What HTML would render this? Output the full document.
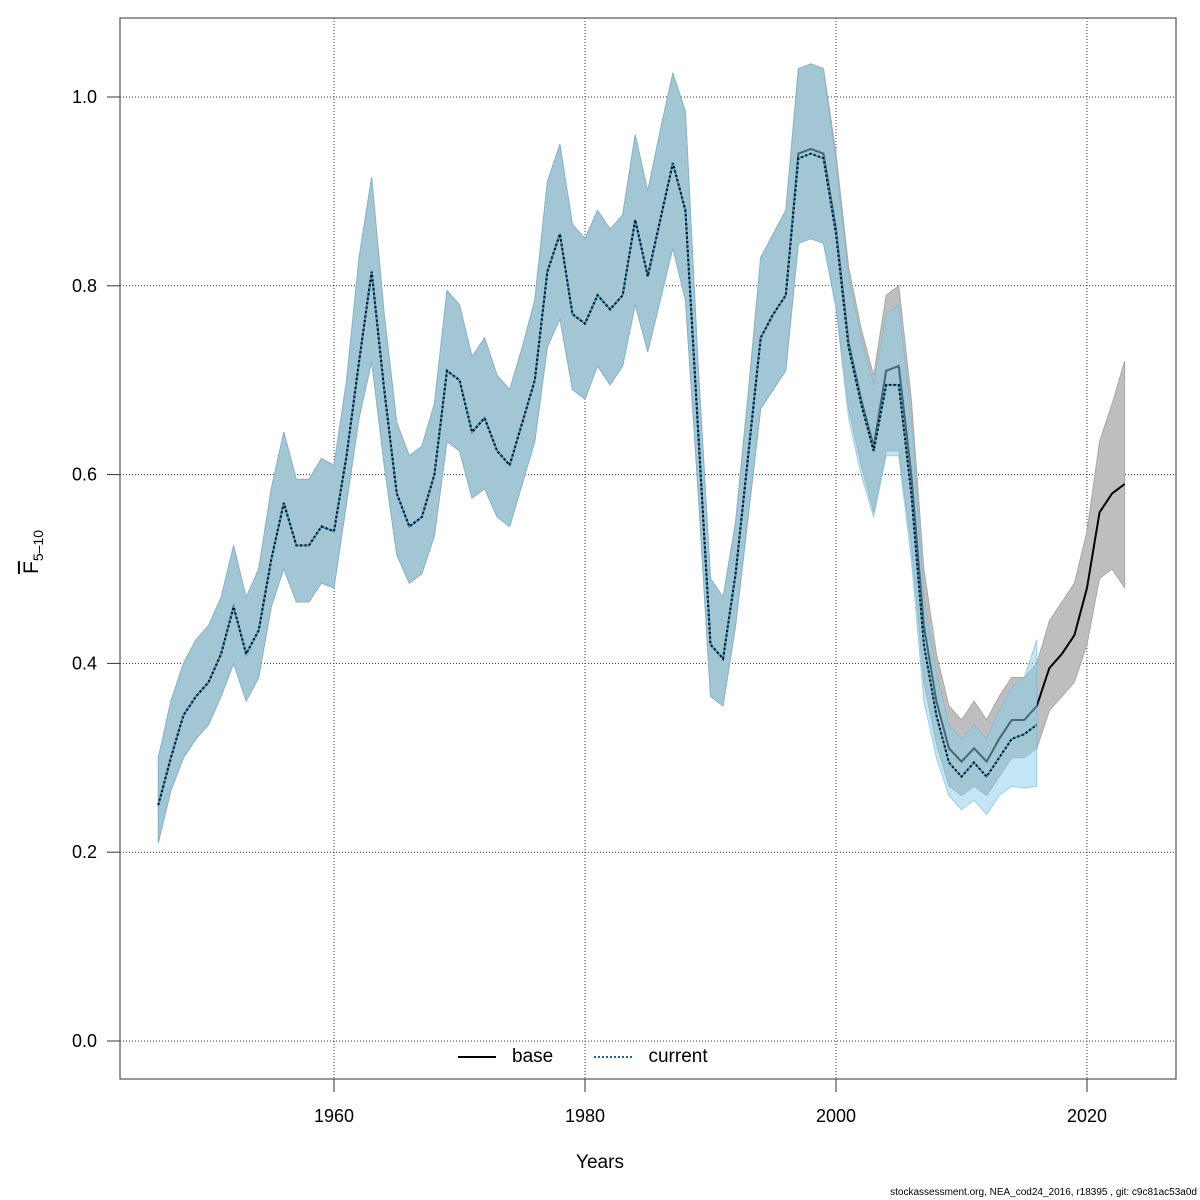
<!DOCTYPE html>
<html><head><meta charset="utf-8"><style>
body{margin:0;background:#fff;}
svg{display:block;font-family:"Liberation Sans",sans-serif;}
</style></head><body>
<svg id="chart" width="1200" height="1200" xmlns="http://www.w3.org/2000/svg"></svg>
<script>
const baseYears=[1946,1947,1948,1949,1950,1951,1952,1953,1954,1955,1956,1957,1958,1959,1960,1961,1962,1963,1964,1965,1966,1967,1968,1969,1970,1971,1972,1973,1974,1975,1976,1977,1978,1979,1980,1981,1982,1983,1984,1985,1986,1987,1988,1989,1990,1991,1992,1993,1994,1995,1996,1997,1998,1999,2000,2001,2002,2003,2004,2005,2006,2007,2008,2009,2010,2011,2012,2013,2014,2015,2016,2017,2018,2019,2020,2021,2022,2023];
const baseF=[0.25,0.30,0.345,0.365,0.38,0.41,0.46,0.41,0.435,0.51,0.57,0.525,0.525,0.545,0.54,0.62,0.72,0.815,0.69,0.58,0.545,0.555,0.60,0.71,0.70,0.645,0.66,0.625,0.61,0.655,0.70,0.815,0.855,0.77,0.76,0.79,0.775,0.79,0.87,0.81,0.87,0.93,0.88,0.65,0.42,0.405,0.495,0.62,0.745,0.77,0.79,0.94,0.945,0.94,0.86,0.74,0.68,0.63,0.71,0.715,0.60,0.44,0.36,0.31,0.296,0.31,0.296,0.32,0.34,0.34,0.355,0.395,0.41,0.43,0.48,0.56,0.58,0.59];
const baseHi=[0.30,0.36,0.40,0.425,0.44,0.47,0.525,0.47,0.50,0.585,0.645,0.595,0.595,0.617,0.61,0.70,0.83,0.915,0.77,0.655,0.62,0.63,0.675,0.795,0.78,0.725,0.745,0.705,0.69,0.735,0.785,0.91,0.95,0.865,0.85,0.88,0.86,0.875,0.96,0.90,0.965,1.025,0.985,0.72,0.49,0.47,0.55,0.685,0.83,0.855,0.88,1.03,1.035,1.03,0.94,0.82,0.755,0.705,0.79,0.80,0.68,0.50,0.41,0.355,0.34,0.36,0.34,0.365,0.385,0.385,0.40,0.445,0.465,0.485,0.54,0.635,0.675,0.72];
const baseLo=[0.21,0.265,0.30,0.32,0.335,0.365,0.40,0.36,0.385,0.46,0.50,0.465,0.465,0.485,0.48,0.57,0.66,0.72,0.61,0.515,0.485,0.495,0.535,0.635,0.625,0.575,0.585,0.555,0.545,0.59,0.635,0.735,0.765,0.69,0.68,0.715,0.695,0.715,0.78,0.73,0.785,0.84,0.785,0.585,0.365,0.355,0.44,0.555,0.67,0.69,0.71,0.845,0.85,0.845,0.78,0.67,0.61,0.56,0.625,0.625,0.525,0.38,0.315,0.27,0.26,0.27,0.26,0.28,0.30,0.30,0.31,0.35,0.365,0.38,0.42,0.49,0.50,0.48];
const curYears=[1946,1947,1948,1949,1950,1951,1952,1953,1954,1955,1956,1957,1958,1959,1960,1961,1962,1963,1964,1965,1966,1967,1968,1969,1970,1971,1972,1973,1974,1975,1976,1977,1978,1979,1980,1981,1982,1983,1984,1985,1986,1987,1988,1989,1990,1991,1992,1993,1994,1995,1996,1997,1998,1999,2000,2001,2002,2003,2004,2005,2006,2007,2008,2009,2010,2011,2012,2013,2014,2015,2016];
const curF=[0.25,0.30,0.345,0.365,0.38,0.41,0.46,0.41,0.435,0.51,0.57,0.525,0.525,0.545,0.54,0.62,0.72,0.815,0.69,0.58,0.545,0.555,0.60,0.71,0.70,0.645,0.66,0.625,0.61,0.655,0.70,0.815,0.855,0.77,0.76,0.79,0.775,0.79,0.87,0.81,0.87,0.93,0.88,0.65,0.42,0.405,0.495,0.62,0.745,0.77,0.79,0.935,0.94,0.935,0.855,0.735,0.675,0.625,0.695,0.695,0.58,0.42,0.345,0.295,0.28,0.295,0.28,0.30,0.32,0.325,0.335];
const curHi=[0.30,0.36,0.40,0.425,0.44,0.47,0.525,0.47,0.50,0.585,0.645,0.595,0.595,0.617,0.61,0.70,0.83,0.915,0.77,0.655,0.62,0.63,0.675,0.795,0.78,0.725,0.745,0.705,0.69,0.735,0.785,0.91,0.95,0.865,0.85,0.88,0.86,0.875,0.96,0.90,0.965,1.025,0.985,0.72,0.49,0.47,0.55,0.685,0.83,0.855,0.88,1.03,1.035,1.03,0.93,0.81,0.745,0.695,0.77,0.78,0.66,0.47,0.39,0.335,0.32,0.335,0.32,0.35,0.375,0.385,0.425];
const curLo=[0.21,0.265,0.30,0.32,0.335,0.365,0.40,0.36,0.385,0.46,0.50,0.465,0.465,0.485,0.48,0.57,0.66,0.72,0.61,0.515,0.485,0.495,0.535,0.635,0.625,0.575,0.585,0.555,0.545,0.59,0.635,0.735,0.765,0.69,0.68,0.715,0.695,0.715,0.78,0.73,0.785,0.84,0.785,0.585,0.365,0.355,0.44,0.555,0.67,0.69,0.71,0.845,0.85,0.845,0.775,0.66,0.60,0.555,0.62,0.62,0.51,0.36,0.30,0.26,0.245,0.255,0.24,0.26,0.27,0.268,0.27];
const xTicks=[1960,1980,2000,2020];
const yTicks=[0.0,0.2,0.4,0.6,0.8,1.0];

const NS="http://www.w3.org/2000/svg";
const svg=document.getElementById('chart');
const L=120,R=1176,T=18,B=1079;
const x=v=>334+(v-1960)*(1087-334)/60;
const y=v=>1041-v*944;
function mk(tag,attrs,parent){const e=document.createElementNS(NS,tag);for(const k in attrs)e.setAttribute(k,attrs[k]);(parent||svg).appendChild(e);return e;}
function band(xs,lo,hi){let p=xs.map((v,i)=>x(v)+','+y(hi[i]));for(let i=xs.length-1;i>=0;i--)p.push(x(xs[i])+','+y(lo[i]));return p.join(' ');}
function line(xs,vs){return xs.map((v,i)=>x(v)+','+y(vs[i])).join(' ');}

for(const t of xTicks){const g=mk('line',{x1:x(t),x2:x(t),y1:T,y2:B,stroke:'#333','stroke-width':1,'stroke-dasharray':'1,2'});
}
for(const t of yTicks){const g=mk('line',{x1:L,x2:R,y1:y(t),y2:y(t),stroke:'#333','stroke-width':1,'stroke-dasharray':'1,2'});
}

const bb=mk('polygon',{points:band(baseYears,baseLo,baseHi),fill:'#bebebe',stroke:'#a8a8a8','stroke-width':1});

const bl=mk('polyline',{points:line(baseYears,baseF),fill:'none',stroke:'#000','stroke-width':2});

const cb=mk('polygon',{points:band(curYears,curLo,curHi),fill:'rgba(135,206,235,0.5)',stroke:'rgba(120,180,210,0.6)','stroke-width':1});

const cl1=mk('polyline',{points:line(curYears,curF),fill:'none',stroke:'#3aa0d0','stroke-width':1.8});

const cl=mk('polyline',{points:line(curYears,curF),fill:'none',stroke:'#000','stroke-width':2,'stroke-dasharray':'2,2.5'});


const box=mk('rect',{x:L,y:T,width:R-L,height:B-T,fill:'none',stroke:'#555','stroke-width':1.2});


for(const t of xTicks){
const tk=mk('line',{x1:x(t),x2:x(t),y1:B,y2:B+13,stroke:'#333'});

const tl=mk('text',{x:x(t),y:1122,'text-anchor':'middle','font-size':18});tl.textContent=t;
}
for(const t of yTicks){
const tk=mk('line',{x1:L-13,x2:L,y1:y(t),y2:y(t),stroke:'#333'});

const tl=mk('text',{x:97,y:y(t)+6,'text-anchor':'end','font-size':18});tl.textContent=t.toFixed(1);
}
</script>
<div style="position:absolute;left:0;top:0;width:1200px;height:1200px;pointer-events:none;font-family:'Liberation Sans',sans-serif;">
<div style="position:absolute;left:600px;top:1152px;transform:translateX(-50%);font-size:19px;">Years</div>
<div style="position:absolute;left:33px;top:552px;transform:translate(-50%,-50%) rotate(-90deg);font-size:21px;white-space:nowrap;"><span style="text-decoration:overline;">F</span><sub style="font-size:14px;">5–10</sub></div>
<div style="position:absolute;left:458px;top:1046px;font-size:19px;">
<span><span style="display:inline-block;width:38px;border-top:2px solid #000;vertical-align:middle;margin-right:16px;"></span>base</span>
<span style="margin-left:36px;"><span style="display:inline-block;width:38px;border-top:2px dotted #1a6a90;vertical-align:middle;margin-right:16px;"></span>current</span>
</div>
<div style="position:absolute;right:3px;top:1187px;font-size:10px;">stockassessment.org, NEA_cod24_2016, r18395 , git: c9c81ac53a0d</div>
</div>
</body></html>
